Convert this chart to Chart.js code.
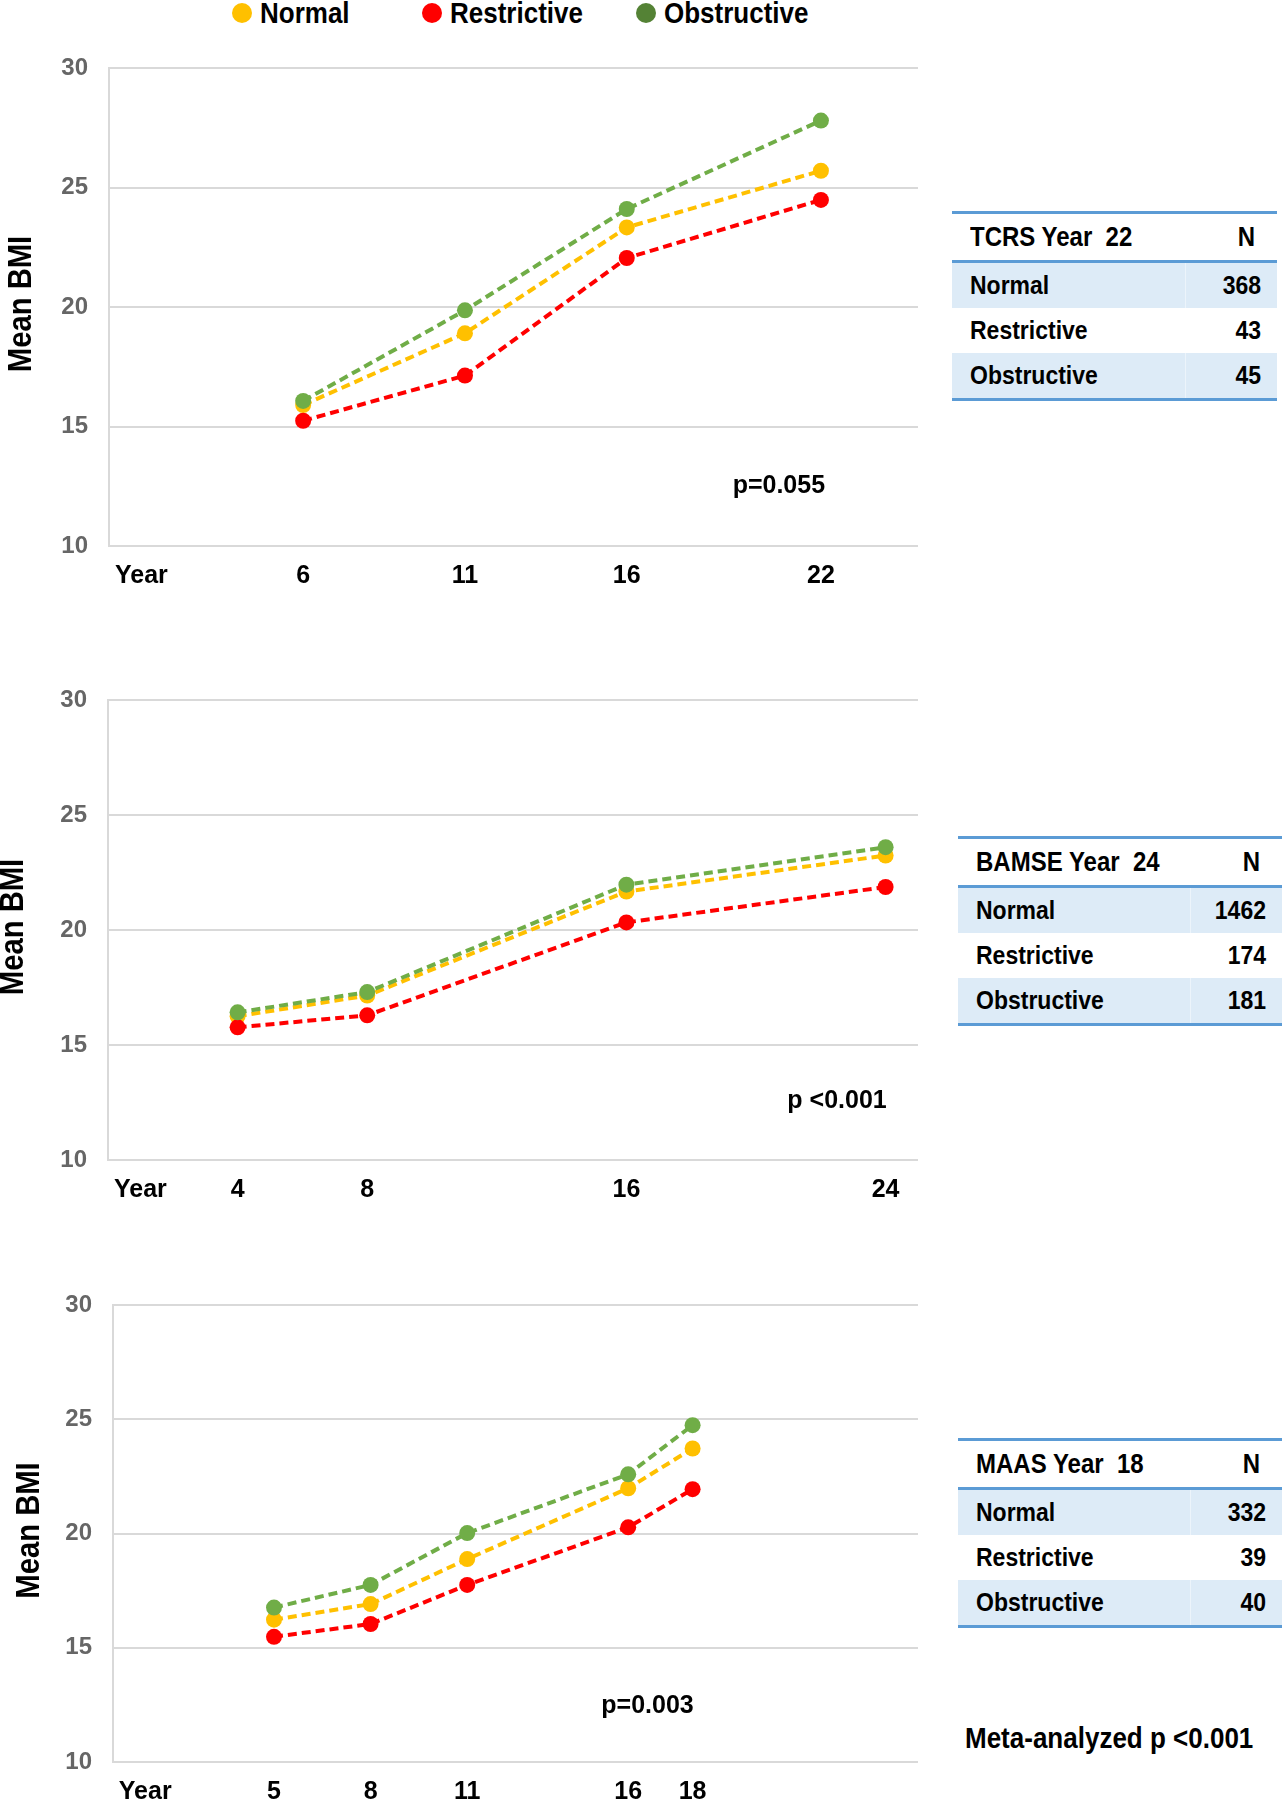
<!DOCTYPE html>
<html>
<head>
<meta charset="utf-8">
<script src="https://cdn.jsdelivr.net/npm/chart.js@4.4.1/dist/chart.umd.min.js"></script>
<style>
  body { margin: 0; background: #fff; font-family: 'Liberation Sans', Arial, sans-serif; }
  #page { position: relative; width: 1282px; height: 1800px; overflow: hidden; }
  .box { position: absolute; }
  .legend-item { position: absolute; top: 0; height: 26px; display: flex; align-items: center;
                 font-weight: bold; font-size: 26px; color: #000; }
  .dot { width: 20px; height: 20px; border-radius: 50%; margin-right: 8px; }
  table.ntab { position: absolute; border-collapse: collapse; font-weight: bold; font-size: 23px; color: #000; }
  table.ntab td { padding: 0; }
  table.ntab tr.head td { height: 46px; font-size: 24px; border-top: 3px solid #5B9BD5; border-bottom: 3px solid #5B9BD5; }
  table.ntab tr.row td { height: 45px; }
  table.ntab tr.shade td { background: #DDEBF7; }
  table.ntab tr.last td { border-bottom: 3px solid #5B9BD5; }
  table.ntab td.name { padding-left: 18px; }
  table.ntab td.num { text-align: right; padding-right: 16px; width: 70px; }
  table.ntab tr.shade td.num { border-left: 1px solid rgba(255,255,255,0.45); }
  table.ntab tr.head td.num { padding-right: 22px; }
  .txt { display: inline-block; transform: scaleY(1.12); }
  #meta { position: absolute; left: 965px; top: 1723px; font-weight: bold; font-size: 26px; }
</style>
</head>
<body>
<div id="page">
  <div class="legend-item" style="left:232px"><span class="dot" style="background:#FFC000"></span><span class="txt">Normal</span></div>
  <div class="legend-item" style="left:422px"><span class="dot" style="background:#FF0000"></span><span class="txt">Restrictive</span></div>
  <div class="legend-item" style="left:636px"><span class="dot" style="background:#548235"></span><span class="txt">Obstructive</span></div>

  <div class="box" style="left:0;top:0;width:940px;height:610px"><canvas id="c1"></canvas></div>
  <div class="box" style="left:0;top:640px;width:940px;height:580px"><canvas id="c2"></canvas></div>
  <div class="box" style="left:0;top:1245px;width:940px;height:555px"><canvas id="c3"></canvas></div>

  <table class="ntab" id="t1" style="left:952px;top:211px;width:325px"></table>
  <table class="ntab" id="t2" style="left:958px;top:836px;width:324px"></table>
  <table class="ntab" id="t3" style="left:958px;top:1438px;width:324px"></table>

  <div id="meta"><span class="txt">Meta-analyzed p &lt;0.001</span></div>
</div>

<script>
Chart.defaults.font.family = "'Liberation Sans', Arial, sans-serif";
Chart.defaults.animation = false;

const groups = ['Normal', 'Restrictive', 'Obstructive'];
const colors = ['#FFC000', '#FF0000', '#70AD47'];

// TCRS
const tcrsYears = [6, 11, 16, 22];
const tcrsNormal = [15.9, 18.9, 23.33, 25.7];
const tcrsRestrictive = [15.24, 17.13, 22.05, 24.48];
const tcrsObstructive = [16.07, 19.86, 24.1, 27.8];
const tcrsTicks = [1, 6, 11, 16, 22];
const tcrsTickLabels = ['Year', '6', '11', '16', '22'];
const tcrsN = [368, 43, 45];

// BAMSE
const bamseYears = [4, 8, 16, 24];
const bamseNormal = [16.25, 17.15, 21.67, 23.24];
const bamseRestrictive = [15.77, 16.29, 20.33, 21.87];
const bamseObstructive = [16.42, 17.3, 21.97, 23.6];
const bamseTicks = [1, 4, 8, 16, 24];
const bamseTickLabels = ['Year', '4', '8', '16', '24'];
const bamseN = [1462, 174, 181];

// MAAS
const maasYears = [5, 8, 11, 16, 18];
const maasNormal = [16.23, 16.91, 18.88, 21.98, 23.72];
const maasRestrictive = [15.48, 16.04, 17.75, 20.27, 21.94];
const maasObstructive = [16.76, 17.75, 20.02, 22.59, 24.74];
const maasTicks = [1, 5, 8, 11, 16, 18];
const maasTickLabels = ['Year', '5', '8', '11', '16', '18'];
const maasN = [332, 39, 40];

// p-value text placed in data coordinates
const pLabel = {
  id: 'pLabel',
  afterDatasetsDraw(chart, args, opts) {
    const { ctx, scales: { x, y } } = chart;
    ctx.save();
    ctx.font = "bold 25px 'Liberation Sans', Arial, sans-serif";
    ctx.fillStyle = '#000';
    ctx.textAlign = 'center';
    ctx.textBaseline = 'middle';
    ctx.fillText(opts.text, x.getPixelForValue(opts.x), y.getPixelForValue(opts.y));
    ctx.restore();
  }
};

// heavy, squat "Mean BMI" axis title
const yTitle = {
  id: 'yTitle',
  afterDraw(chart, args, opts) {
    const { ctx, chartArea } = chart;
    ctx.save();
    ctx.translate(opts.x, (chartArea.top + chartArea.bottom) / 2 - 3);
    ctx.rotate(-Math.PI / 2);
    ctx.scale(0.86, 1);
    ctx.font = "bold 34px 'Liberation Sans', Arial, sans-serif";
    ctx.fillStyle = '#000';
    ctx.textAlign = 'center';
    ctx.textBaseline = 'middle';
    ctx.fillText('Mean BMI', 0, 1);
    ctx.restore();
  }
};

function makeChart(id, c) {
  const series = [c.normal, c.restrictive, c.obstructive];
  return new Chart(document.getElementById(id), {
    type: 'line',
    data: {
      datasets: series.map((vals, i) => ({
        label: groups[i],
        data: c.years.map((yr, j) => ({ x: yr, y: vals[j] })),
        borderColor: colors[i],
        backgroundColor: colors[i],
        borderWidth: 4,
        borderDash: [9, 5],
        pointRadius: 8,
        pointHoverRadius: 8,
        pointBorderWidth: 0,
        tension: 0,
        order: 2 - i
      }))
    },
    options: {
      responsive: true,
      maintainAspectRatio: false,
      layout: { padding: { top: c.padTop, right: 22, left: 0, bottom: 0 } },
      plugins: {
        legend: { display: false },
        tooltip: { enabled: false },
        pLabel: { text: c.pText, x: c.pX, y: c.pY },
        yTitle: { x: c.titleX }
      },
      scales: {
        x: {
          type: 'linear', min: 0, max: 25,
          grid: { display: false },
          border: { display: false },
          afterBuildTicks: (s) => { s.ticks = c.ticks.map(v => ({ value: v })); },
          afterFit: (s) => { s.height = c.xHeight; },
          ticks: {
            autoSkip: false, maxRotation: 0, padding: 7,
            color: '#000', font: { size: 25, weight: 'bold' },
            callback: (v) => c.tickLabels[c.ticks.indexOf(v)]
          }
        },
        y: {
          min: 10, max: 30,
          afterFit: (s) => { s.width = c.yWidth; },
          grid: { color: '#D9D9D9', lineWidth: 2, drawTicks: false },
          border: { color: '#D9D9D9', width: 2 },
          ticks: { stepSize: 5, padding: 21, color: '#666', font: { size: 24, weight: 'bold' } },
          title: { display: false }
        }
      }
    },
    plugins: [pLabel, yTitle]
  });
}

makeChart('c1', {
  years: tcrsYears, normal: tcrsNormal, restrictive: tcrsRestrictive, obstructive: tcrsObstructive,
  ticks: tcrsTicks, tickLabels: tcrsTickLabels,
  padTop: 68, xHeight: 64, yWidth: 109, titleX: 21,
  pText: 'p=0.055', pX: 20.7, pY: 12.5
});
makeChart('c2', {
  years: bamseYears, normal: bamseNormal, restrictive: bamseRestrictive, obstructive: bamseObstructive,
  ticks: bamseTicks, tickLabels: bamseTickLabels,
  padTop: 60, xHeight: 60, yWidth: 108, titleX: 13,
  pText: 'p <0.001', pX: 22.5, pY: 12.55
});
makeChart('c3', {
  years: maasYears, normal: maasNormal, restrictive: maasRestrictive, obstructive: maasObstructive,
  ticks: maasTicks, tickLabels: maasTickLabels,
  padTop: 60, xHeight: 38, yWidth: 113, titleX: 29,
  pText: 'p=0.003', pX: 16.6, pY: 12.45
});

function makeTable(id, title, counts) {
  let html = '<tr class="head"><td class="name"><span class="txt">' + title +
             '</span></td><td class="num"><span class="txt">N</span></td></tr>';
  groups.forEach((g, i) => {
    const cls = 'row' + (i % 2 === 0 ? ' shade' : '') + (i === groups.length - 1 ? ' last' : '');
    html += '<tr class="' + cls + '"><td class="name"><span class="txt">' + g +
            '</span></td><td class="num"><span class="txt">' + counts[i] + '</span></td></tr>';
  });
  document.getElementById(id).innerHTML = html;
}
makeTable('t1', 'TCRS Year&nbsp; 22', tcrsN);
makeTable('t2', 'BAMSE Year&nbsp; 24', bamseN);
makeTable('t3', 'MAAS Year&nbsp; 18', maasN);
</script>
</body>
</html>
